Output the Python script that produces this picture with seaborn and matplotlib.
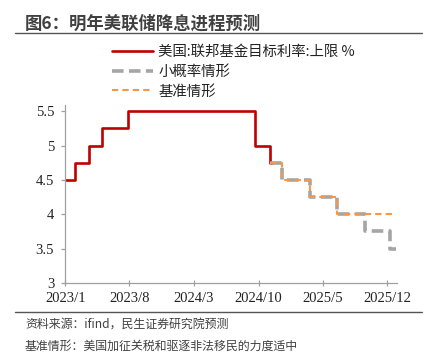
"""Fed rate path forecast chart (step lines)."""
import matplotlib
matplotlib.use("Agg")
import matplotlib.pyplot as plt
from matplotlib.lines import Line2D
import numpy as np
import pandas as pd
import seaborn as sns

# ---- data -------------------------------------------------------------
actual_dates = ["2023-01-01", "2023-02-01", "2023-03-22", "2023-05-03",
                "2023-07-26", "2024-09-18", "2024-11-07", "2024-11-15"]
actual_rate = [4.5, 4.75, 5.0, 5.25, 5.5, 5.0, 4.75, 4.75]

low_prob_dates = ["2024-11-07", "2024-12-18", "2025-03-19", "2025-06-18",
                  "2025-09-17", "2025-12-10", "2025-12-31"]
low_prob_rate = [4.75, 4.5, 4.25, 4.0, 3.75, 3.5, 3.5]

base_dates = ["2024-11-07", "2024-12-18", "2025-03-19", "2025-06-18",
              "2025-12-31"]
base_rate = [4.75, 4.5, 4.25, 4.0, 4.0]

tick_dates = ["2023-01-01", "2023-08-01", "2024-03-01", "2024-10-01",
              "2025-05-01", "2025-12-01"]
tick_labels = ["2023/1", "2023/8", "2024/3", "2024/10", "2025/5", "2025/12"]

legend_labels = ["美国:联邦基金目标利率:上限 %", "小概率情形", "基准情形"]
title = "图6：明年美联储降息进程预测"
notes = ["资料来源：ifind，民生证券研究院预测",
         "基准情形：美国加征关税和驱逐非法移民的力度适中",
         "小概率情形：美国加征关税和驱逐非法移民的力度超预期"]

RED = "#C00000"
GREY = "#A5A5A5"
ORANGE = "#F79646"
CJK = ["Noto Sans CJK SC", "DejaVu Sans"]
SERIF = ["Liberation Serif", "DejaVu Serif"]

sns.set_theme(style="white")
plt.rcParams["font.family"] = CJK

W, H = 423, 362
fig = plt.figure(figsize=(W / 100, H / 100), dpi=100)


def fx(px):
    return px / W


def fy(py):
    return 1 - py / H


ax = fig.add_axes([fx(65.3), fy(283), fx(396.7) - fx(65.3), fy(105) - fy(283)])

sns.lineplot(x=pd.to_datetime(actual_dates), y=actual_rate, ax=ax,
             drawstyle="steps-post", color=RED, lw=1.9)
sns.lineplot(x=pd.to_datetime(low_prob_dates), y=low_prob_rate, ax=ax,
             drawstyle="steps-post", color=GREY, lw=2.6, linestyle="--")
ax.lines[-1].set_dashes((3.2, 1.5))
sns.lineplot(x=pd.to_datetime(base_dates), y=base_rate, ax=ax,
             drawstyle="steps-post", color=ORANGE, lw=1.5, linestyle="--")
ax.lines[-1].set_dashes((3.0, 2.0))

ax.set_xlim(pd.Timestamp("2023-01-01"), pd.Timestamp("2026-01-01"))
ax.set_ylim(3, 5.59)
ax.set_yticks(np.arange(3, 5.51, 0.5))
ax.set_yticklabels(["3", "3.5", "4", "4.5", "5", "5.5"])
ax.set_xticks(pd.to_datetime(tick_dates))
ax.set_xticklabels(tick_labels)
ax.set_xlabel("")
ax.set_ylabel("")

for lab in ax.get_xticklabels() + ax.get_yticklabels():
    lab.set_family(SERIF)
    lab.set_fontsize(10.5)
    lab.set_color("#222222")

sns.despine(ax=ax)
for side in ("left", "bottom"):
    ax.spines[side].set_color("#A0A0A0")
    ax.spines[side].set_linewidth(0.9)
ax.tick_params(axis="x", direction="inout", length=5, width=0.9,
               color="#A0A0A0", pad=4, bottom=True)
ax.tick_params(axis="y", direction="out", length=3, width=0.9,
               color="#A0A0A0", pad=5, left=True)

handles = [
    Line2D([], [], color=RED, lw=1.9),
    Line2D([], [], color=GREY, lw=2.6, dashes=(3.2, 1.5)),
    Line2D([], [], color=ORANGE, lw=1.5, dashes=(3.0, 2.0)),
]
fig.legend(handles, legend_labels, loc="upper left",
           bbox_to_anchor=(fx(112), fy(45)), frameon=False,
           borderpad=0, borderaxespad=0, handlelength=2.85,
           handletextpad=0.35, labelspacing=0.4,
           prop={"family": CJK, "size": 10.4}, labelcolor="#222222")

fig.text(fx(25), fy(24), title, fontsize=12.5, fontweight="bold",
         color="#404040", va="center", ha="left", family=CJK)
fig.add_artist(Line2D([fx(15), fx(422)], [fy(33), fy(33)], color="#555555",
                      lw=1.0))
fig.add_artist(Line2D([fx(15), fx(422)], [fy(312), fy(312)], color="#555555",
                      lw=1.0))
for i, note in enumerate(notes):
    fig.text(fx(25), fy(324 + 22.5 * i), note, fontsize=8.6, color="#404040",
             va="center", ha="left", family=CJK)

fig.savefig("out.png", dpi=100)
